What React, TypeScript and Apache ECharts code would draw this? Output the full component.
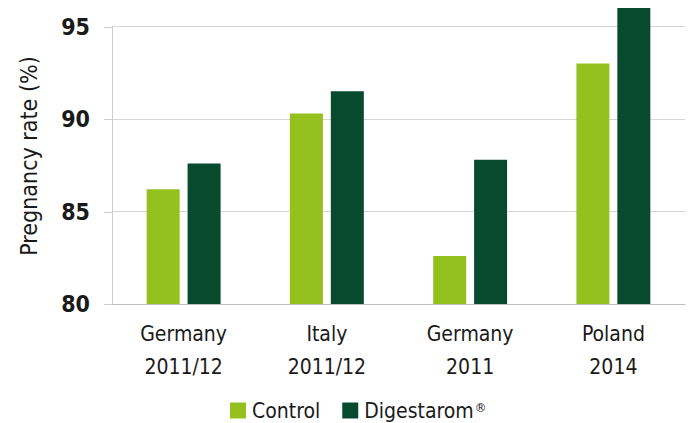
import React, { useEffect, useRef } from "react";
import * as echarts from "echarts";

const categories = ["Germany\n2011/12", "Italy\n2011/12", "Germany\n2011", "Poland\n2014"];
const controlValues = [86.2, 90.3, 82.6, 93.0];
const digestaromValues = [87.6, 91.5, 87.8, 96.0];
const seriesNames = ["Control", "Digestarom®"];
const yTicks = { min: 80, max: 96, interval: 5, lastLabel: 95 };

const FONT = "'DejaVu Sans Condensed', sans-serif";

export default function App() {
  const ref = useRef<HTMLDivElement>(null);
  useEffect(() => {
    document.body.style.margin = "0";
    const chart = echarts.init(ref.current!, null, { renderer: "svg" });
    chart.setOption({
      animation: false,
      textStyle: { fontFamily: FONT },
      grid: { left: 112, right: 3, top: 8, bottom: 119 },
      legend: {
        left: 230,
        top: 400,
        padding: 0,
        itemWidth: 16,
        itemHeight: 16,
        itemGap: 22,
        icon: "rect",
        formatter: (name: string) =>
          name.endsWith("®") ? name.slice(0, -1) + "{sup|®}" : name,
        textStyle: {
          fontSize: 21,
          lineHeight: 20,
          color: "#1a1a1a",
          fontFamily: FONT,
          padding: [0, 0, 0, 1],
          rich: {
            sup: { fontSize: 13, lineHeight: 14, color: "#1a1a1a", fontFamily: FONT, verticalAlign: "top", padding: [0, 0, 8, 1] },
          },
        },
        data: seriesNames,
      },
      xAxis: {
        type: "category",
        data: categories,
        axisLine: { lineStyle: { color: "#bfbfbf", width: 1 } },
        axisTick: { show: false },
        axisLabel: { fontSize: 21, color: "#1a1a1a", lineHeight: 33, margin: 13, fontFamily: FONT },
      },
      yAxis: {
        type: "value",
        min: yTicks.min,
        max: yTicks.max,
        interval: yTicks.interval,
        name: "Pregnancy rate (%)",
        nameLocation: "middle",
        nameGap: 72,
        nameTextStyle: { fontSize: 23, color: "#1a1a1a", fontFamily: FONT },
        axisLine: { show: false },
        axisTick: { show: false },
        axisLabel: { fontSize: 23, color: "#1a1a1a", margin: 22, fontWeight: "bold", fontFamily: FONT, showMaxLabel: false },
        splitLine: { showMaxLine: false, lineStyle: { color: "#d6d6d6" } },
      },
      series: [
        {
          name: seriesNames[0],
          type: "bar",
          data: controlValues,
          barWidth: 33,
          barGap: "24%",
          itemStyle: { color: "#95C11F" },
        },
        {
          name: seriesNames[1],
          type: "bar",
          data: digestaromValues,
          barWidth: 33,
          barGap: "24%",
          itemStyle: { color: "#084A2E" },
        },
      ],
    });
    // y axis line and outward ticks, from min to the last labelled tick
    const gridLeft = 112;
    const yMin = chart.convertToPixel({ yAxisIndex: 0 }, yTicks.min) as number;
    const yTop = chart.convertToPixel({ yAxisIndex: 0 }, yTicks.lastLabel) as number;
    const tickEls: any[] = [];
    for (let v = yTicks.min; v <= yTicks.lastLabel; v += yTicks.interval) {
      const y = chart.convertToPixel({ yAxisIndex: 0 }, v) as number;
      tickEls.push({
        type: "line",
        shape: { x1: gridLeft - 8, y1: Math.round(y) + 0.5, x2: gridLeft, y2: Math.round(y) + 0.5 },
        style: { stroke: "#cccccc", lineWidth: 1 },
      });
    }
    chart.setOption({
      graphic: [
        {
          type: "line",
          shape: { x1: gridLeft + 0.5, y1: yTop, x2: gridLeft + 0.5, y2: yMin },
          style: { stroke: "#cccccc", lineWidth: 1 },
        },
        ...tickEls,
      ],
    });
    return () => chart.dispose();
  }, []);
  return <div ref={ref} style={{ width: 688, height: 423 }} />;
}
